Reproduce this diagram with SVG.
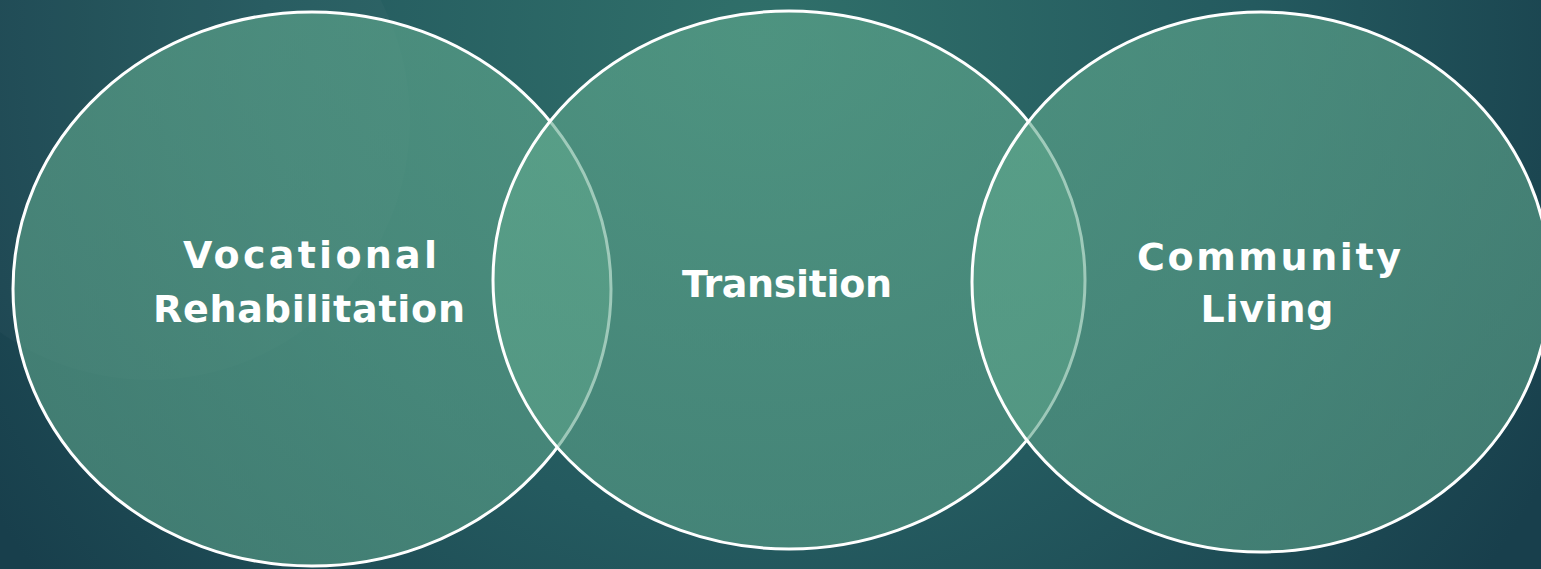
<svg xmlns="http://www.w3.org/2000/svg" width="1541" height="569" viewBox="0 0 1541 569">
  <defs>
    <radialGradient id="bg" cx="760" cy="40" r="900" gradientUnits="userSpaceOnUse">
      <stop offset="0" stop-color="#30706a"/>
      <stop offset="0.55" stop-color="#245a5f"/>
      <stop offset="1" stop-color="#183f4c"/>
    </radialGradient>
    <linearGradient id="fill" x1="0" y1="0" x2="0" y2="1">
      <stop offset="0" stop-color="#62ab8f"/>
      <stop offset="1" stop-color="#5aa088"/>
    </linearGradient>
  </defs>
  <style>
    .venn { fill: url(#fill); fill-opacity: 0.6; stroke: #ffffff; stroke-width: 3; }
    .label { font-family: "DejaVu Sans", "Liberation Sans", sans-serif; font-weight: bold; font-size: 38px; fill: #ffffff; text-anchor: middle; }
  </style>
  <rect width="1541" height="569" fill="url(#bg)"/>
  <circle cx="150" cy="120" r="260" fill="#ffffff" fill-opacity="0.025"/>
  <g id="connectors"></g>
  <g id="node-vocational">
    <ellipse class="venn" cx="312" cy="289" rx="299" ry="277"/>
  </g>
  <g id="node-transition">
    <ellipse class="venn" cx="789" cy="280" rx="296" ry="269"/>
  </g>
  <g id="node-community">
    <ellipse class="venn" cx="1261" cy="282" rx="289" ry="270"/>
  </g>
  <g id="labels">
    <text class="label" x="310" y="268" textLength="254" lengthAdjust="spacing">Vocational</text>
    <text class="label" x="309" y="322" textLength="312" lengthAdjust="spacing">Rehabilitation</text>
    <text class="label" x="787" y="297" textLength="210" lengthAdjust="spacing">Transition</text>
    <text class="label" x="1269" y="270" textLength="264" lengthAdjust="spacing">Community</text>
    <text class="label" x="1267" y="322" textLength="133" lengthAdjust="spacing">Living</text>
  </g>
</svg>
